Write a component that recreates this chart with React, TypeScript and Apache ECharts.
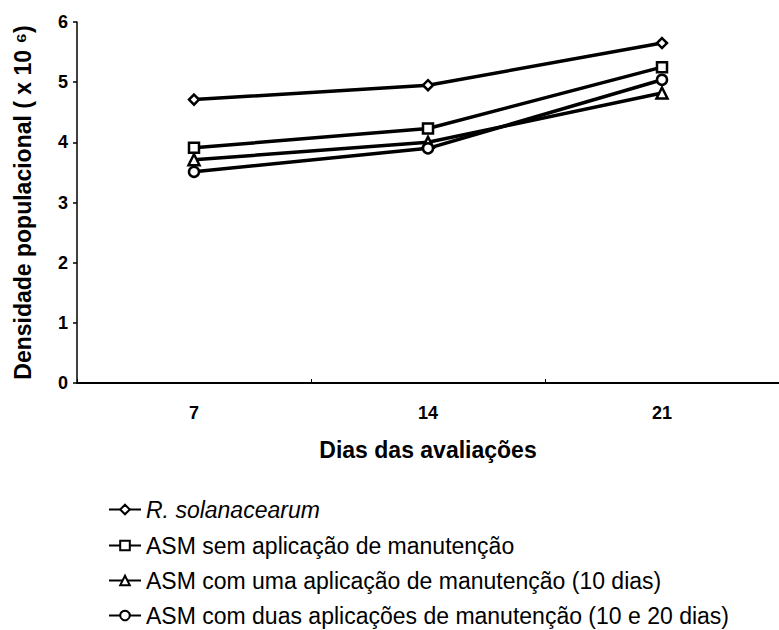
import React, { useEffect, useRef } from "react";
import * as echarts from "echarts";

const days = ["7", "14", "21"];
const seriesNames = [
  "R. solanacearum",
  "ASM sem aplicação de manutenção",
  "ASM com uma aplicação de manutenção (10 dias)",
  "ASM com duas aplicações de manutenção (10 e 20 dias)",
];
const rSolanacearum = [4.71, 4.95, 5.65];
const asmSem = [3.91, 4.23, 5.25];
const asmUma = [3.71, 4.0, 4.82];
const asmDuas = [3.51, 3.9, 5.04];
const symbols = ["diamond", "rect", "triangle", "circle"];
const yTicks = [0, 1, 2, 3, 4, 5, 6];

const FONT = "'Liberation Sans', Arial, Helvetica, sans-serif";
const LEGEND_CENTERS = [509, 545, 580, 615];

export default function App() {
  const ref = useRef<HTMLDivElement>(null);
  useEffect(() => {
    if (!ref.current) return;
    const chart = echarts.init(ref.current, null, { renderer: "svg" });
    const values = [rSolanacearum, asmSem, asmUma, asmDuas];
    chart.setOption({
      animation: false,
      backgroundColor: "#ffffff",
      textStyle: { fontFamily: FONT },
      grid: { left: 77, top: 22, width: 707, height: 361, containLabel: false },
      xAxis: {
        type: "category",
        data: days,
        boundaryGap: true,
        name: "Dias das avaliações",
        nameLocation: "middle",
        nameGap: 55,
        nameTextStyle: { fontFamily: FONT, fontWeight: "bold", fontSize: 23, color: "#000" },
        axisLine: { lineStyle: { color: "#000", width: 2 } },
        axisTick: { show: true, inside: true, length: 4, lineStyle: { color: "#000", width: 1 } },
        axisLabel: { fontFamily: FONT, fontWeight: "bold", fontSize: 18, color: "#000", margin: 21 },
        splitLine: { show: false },
      },
      yAxis: {
        type: "value",
        min: yTicks[0],
        max: yTicks[yTicks.length - 1],
        interval: 1,
        name: "Densidade populacional ( x 10 ⁶)",
        nameLocation: "middle",
        nameGap: 43,
        nameTextStyle: { fontFamily: FONT, fontWeight: "bold", fontSize: 23, color: "#000" },
        axisLine: { show: true, lineStyle: { color: "#000", width: 1.5 } },
        axisTick: { show: true, inside: false, length: 4, lineStyle: { color: "#000", width: 1.5 } },
        axisLabel: { fontFamily: FONT, fontWeight: "bold", fontSize: 18, color: "#000", margin: 9 },
        splitLine: { show: false },
      },
      legend: seriesNames.map((n, i) => ({
        orient: "vertical",
        left: 103,
        top: LEGEND_CENTERS[i] - 16,
        itemWidth: 32,
        itemHeight: 12,
        itemGap: 0,
        textStyle: {
          fontFamily: FONT,
          fontSize: 23,
          color: "#000",
          lineHeight: 22,
          fontStyle: i === 0 ? "italic" : "normal",
        },
        data: [n],
      })),
      series: seriesNames.map((n, i) => ({
        name: n,
        type: "line",
        data: values[i],
        symbol: symbols[i],
        symbolSize: i === 2 ? 11 : 10,
        showSymbol: true,
        lineStyle: { color: "#000", width: 3.5 },
        itemStyle: { color: "#fff", borderColor: "#000", borderWidth: 2.5 },
        emphasis: { disabled: true },
      })),
    });
    return () => chart.dispose();
  }, []);
  return (
    <div
      ref={ref}
      style={{ position: "fixed", left: 0, top: 0, width: 779, height: 630, background: "#fff" }}
    />
  );
}
